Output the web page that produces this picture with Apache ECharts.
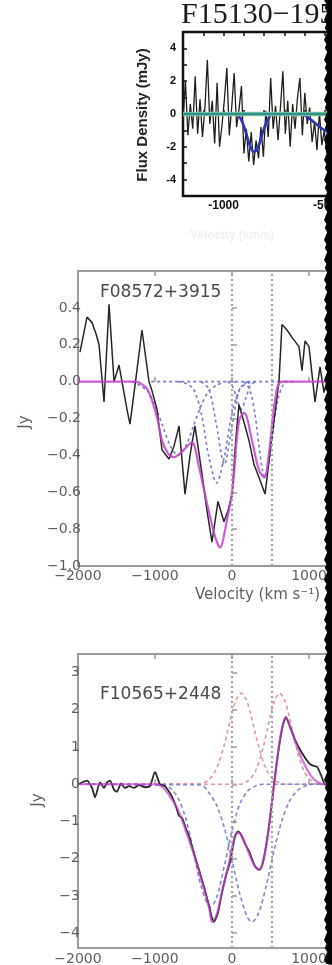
<!DOCTYPE html>
<html>
<head>
<meta charset="utf-8">
<script src="https://cdn.jsdelivr.net/npm/echarts@6/dist/echarts.min.js"></script>
<style>
html,body{margin:0;padding:0;background:#fff;}
#chart{width:332px;height:965px;}
</style>
</head>
<body>
<div id="chart"></div>
<script>
// ---- F15130-1958 : noisy spectrum (mJy), Gaussian fit, zero level ----
const velA = [-1200,-1188,-1176,-1164,-1152,-1140,-1128,-1116,-1104,-1092,-1080,-1068,-1056,-1044,-1032,-1020,-1008,-996,-984,-972,-960,-948,-936,-924,-912,-900,-888,-876,-864,-852,-840,-828,-816,-804,-792,-780,-768,-756,-744,-732,-720,-708,-696,-684,-672,-660,-648,-636,-624,-612,-600,-588,-576,-564,-552,-540,-528,-516,-504,-492];
const fluxA = [-0.4,2.0,-1.3,0.6,-0.9,2.3,-1.2,0.9,-1.4,0.4,3.3,-0.6,0.8,-1.8,1.9,-2.0,-0.7,0.9,2.8,-1.3,0.4,2.5,-0.8,0.3,1.7,-2.4,-0.9,-2.9,-1.1,-3.1,-1.6,-2.7,-0.8,-2.6,0.2,-1.4,2.2,-0.9,0.5,-1.6,0.4,2.6,-1.2,0.8,-2.0,0.6,-0.9,1.0,2.2,-1.3,1.3,-0.6,0.4,-1.7,-0.5,-2.2,0.1,-1.9,-1.0,-2.4];
const velFitA = [-1200,-940,-920,-900,-880,-865,-850,-835,-820,-800,-780,-760,-620,-600,-580,-560,-540,-520,-500,-480,-460];
const fitA = [0,0,-0.2,-0.75,-1.55,-2.1,-2.3,-2.15,-1.65,-0.85,-0.3,0,0,-0.1,-0.25,-0.45,-0.65,-0.85,-1.0,-1.15,-1.3];
const velZeroA = [-1200,-200];
const zeroA = [0,0];

// ---- F08572+3915 : spectrum (Jy), total fit, Gaussian components ----
const vel2Obs = [-1974,-1883,-1818,-1766,-1727,-1662,-1597,-1532,-1467,-1429,-1364,-1325,-1247,-1169,-1078,-1039,-974,-909,-818,-753,-688,-610,-545,-481,-390,-325,-260,-182,-104,-52,0,52,91,156,221,286,351,429,519,610,649,714,779,870,909,948,1000,1078,1143,1195,1260,1364];
const flux2Obs = [0.16,0.35,0.32,0.26,0.2,-0.11,0.42,0.0,0.09,0.0,-0.15,-0.23,0.02,0.28,0.0,-0.05,-0.15,-0.37,-0.42,-0.35,-0.24,-0.61,-0.4,-0.24,-0.5,-0.7,-0.87,-0.65,-0.76,-0.7,-0.62,-0.3,-0.125,-0.22,-0.32,-0.45,-0.52,-0.61,-0.3,0.0,0.31,0.28,0.24,0.19,0.06,0.22,0.19,-0.11,0.08,-0.06,0.05,0.1];
const vel2Fit = [-2000,-1250,-1150,-1100,-1040,-970,-909,-830,-753,-650,-520,-430,-325,-220,-156,-65,0,26,60,100,160,260,350,420,480,560,650,2000];
const fit2 = [0,0,-0.02,-0.04,-0.1,-0.2,-0.32,-0.39,-0.41,-0.38,-0.33,-0.46,-0.66,-0.84,-0.9,-0.75,-0.6,-0.5,-0.32,-0.2,-0.17,-0.32,-0.48,-0.52,-0.39,-0.1,0,0];
const vel2Base = [-1050,720];
const base2 = [0,0];
const vel2CompD = [-1300,-1200,-1100,-1000,-900,-800,-700,-600,-500,-400,-300,-200,-100];
const comp2D = [0,-0.02,-0.05,-0.13,-0.24,-0.35,-0.40,-0.35,-0.24,-0.13,-0.05,-0.02,0];
const vel2CompA = [-700,-600,-500,-400,-300,-200,-100,0,100,200,300];
const comp2A = [0,-0.01,-0.04,-0.17,-0.41,-0.55,-0.41,-0.17,-0.04,-0.01,0];
const vel2CompB = [-400,-300,-200,-100,0,100,200];
const comp2B = [0,-0.04,-0.24,-0.45,-0.24,-0.04,0];
const vel2CompE = [-60,0,60,120,180,240,300];
const comp2E = [0,-0.02,-0.09,-0.15,-0.09,-0.02,0];
const vel2CompC = [150,200,250,300,350,400,430,500,550,600,650,700,800];
const comp2C = [0,-0.02,-0.07,-0.18,-0.35,-0.49,-0.52,-0.38,-0.21,-0.09,-0.03,0,0];

// ---- F10565+2448 : spectrum (Jy), total fit, absorption + emission components ----
const vel3Obs = [-2000,-1883,-1818,-1779,-1714,-1662,-1623,-1584,-1532,-1494,-1442,-1390,-1338,-1273,-1208,-1130,-1065,-1000,-935,-870,-818,-779,-727,-688,-649,-597,-558,-494,-429,-364,-299,-260,-234,-182,-130,-78,-26,39,78,117,169,221,299,351,390,455,519,545,610,662,701,753,818,909,1000,1052,1104,1156,1208,1299,2000];
const flux3Obs = [0.0,0.1,-0.1,-0.35,0.05,-0.1,0.05,0.1,-0.15,-0.2,0.02,-0.1,-0.05,-0.1,-0.02,-0.08,-0.05,0.33,0.0,-0.05,-0.2,-0.33,-0.6,-0.85,-0.9,-1.2,-1.4,-1.85,-2.3,-2.75,-3.25,-3.6,-3.7,-3.45,-2.9,-2.45,-2.1,-1.4,-1.27,-1.35,-1.6,-1.8,-2.2,-2.3,-2.2,-1.5,-0.5,0.0,1.0,1.6,1.8,1.55,1.2,0.84,0.57,0.5,0.47,0.25,0.0,0.0,0.0];
const vel3Fit = [-2000,-1000,-950,-900,-850,-800,-750,-700,-650,-600,-500,-400,-300,-260,-200,-130,-50,30,80,130,200,280,350,400,460,520,560,610,660,700,760,830,900,980,1060,1140,1200,2000];
const fit3 = [0,0,-0.02,-0.08,-0.2,-0.35,-0.5,-0.7,-0.95,-1.25,-1.85,-2.55,-3.3,-3.7,-3.5,-2.9,-2.2,-1.45,-1.3,-1.4,-1.75,-2.15,-2.3,-2.1,-1.45,-0.45,0.2,1.05,1.6,1.8,1.5,1.1,0.72,0.38,0.14,0.03,0,0];
const vel3AbsA = [-2000,-900,-800,-700,-600,-500,-400,-280,-200,-100,0,100,200,300,400,2000];
const abs3A = [0,-0.03,-0.11,-0.37,-0.92,-1.81,-2.75,-3.3,-3.05,-2.2,-1.24,-0.54,-0.19,-0.05,0,0];
const vel3AbsB = [-2000,-400,-300,-200,-100,0,100,200,260,350,450,550,650,750,850,950,1050,2000];
const abs3B = [0,-0.02,-0.23,-0.56,-1.17,-2.03,-2.94,-3.58,-3.7,-3.44,-2.68,-1.75,-0.96,-0.44,-0.17,-0.05,0,0];
const vel3EmA = [-2000,-400,-300,-200,-100,0,60,120,180,240,340,440,540,640,700,2000];
const em3A = [0,0.02,0.12,0.42,1.06,1.91,2.3,2.45,2.3,1.91,1.06,0.42,0.12,0.02,0,0];
const vel3EmB = [-2000,100,200,300,400,500,560,620,680,740,840,940,1040,1100,2000];
const em3B = [0,0,0.08,0.33,0.95,1.85,2.28,2.45,2.28,1.85,0.95,0.33,0.08,0,0];

// systemic and secondary velocity markers
const markerVel = [0, 520];

// y tick values for the third panel
const ticks3 = [-4,-3,-2,-1,0,1,2,3];

const pairs = (xs, ys) => xs.map((x, i) => [x, ys[i]]);
const minus = v => (v < 0 ? '\u2212' : '') + Math.abs(v);

const grayAxis = '#9c9c9c';
const grayText = '#5e5e5e';
const sans = 'DejaVu Sans';

function grayX(gridIndex, pos, showLabels, margin) {
  return {
    type: 'value', gridIndex, position: pos, min: -2000, max: 2000, interval: 1000,
    axisLine: {show: false}, splitLine: {show: false},
    axisTick: {show: true, inside: true, length: 5, lineStyle: {color: grayAxis, width: 1.5}},
    axisLabel: {show: showLabels, margin: margin, color: grayText, fontSize: 14, fontFamily: sans,
      formatter: minus, showMinLabel: true, showMaxLabel: true}
  };
}

const chart = echarts.init(document.getElementById('chart'), null, {renderer: 'canvas'});

const dottedMarks = {
  silent: true, symbol: 'none', label: {show: false},
  lineStyle: {color: '#a3a3a3', width: 2.2, type: [2, 3]},
  data: markerVel.map(v => ({xAxis: v}))
};

const line = (name, xi, yi, data, color, width, type, smooth, z, opacity) => ({
  name, type: 'line', xAxisIndex: xi, yAxisIndex: yi, data,
  showSymbol: false, symbol: 'none', smooth: smooth, z: z,
  lineStyle: {color, width, type: type || 'solid', opacity: opacity == null ? 1 : opacity},
  animation: false
});

const gridBase = {show: true, backgroundColor: 'transparent', containLabel: false, outerBoundsMode: 'none'};

const option = {
  backgroundColor: '#ffffff',
  animation: false,
  grid: [
    Object.assign({left: 183, top: 32, width: 203, height: 164, borderColor: '#111', borderWidth: 2.5}, gridBase),
    Object.assign({left: 78, top: 271, width: 308, height: 295, borderColor: grayAxis, borderWidth: 2}, gridBase),
    Object.assign({left: 78, top: 654, width: 308, height: 294, borderColor: grayAxis, borderWidth: 2}, gridBase)
  ],
  xAxis: [
    {type: 'value', gridIndex: 0, position: 'bottom', min: -1200, max: -200, interval: 100,
      axisLine: {show: false}, splitLine: {show: false},
      axisTick: {show: true, inside: true, length: 4, lineStyle: {color: '#111', width: 1.5}},
      axisLabel: {margin: 4, color: '#111', fontSize: 12, fontWeight: 'bold', fontFamily: 'Liberation Sans',
        formatter: v => (v % 500 === 0 ? String(v) : '')}},
    {type: 'value', gridIndex: 0, position: 'top', min: -1200, max: -200, interval: 100,
      axisLine: {show: false}, splitLine: {show: false},
      axisTick: {show: true, inside: true, length: 4, lineStyle: {color: '#111', width: 1.5}},
      axisLabel: {show: false}},
    grayX(1, 'bottom', true, 3),
    grayX(1, 'top', false, 3),
    grayX(2, 'bottom', true, 4),
    grayX(2, 'top', false, 3)
  ],
  yAxis: [
    {type: 'value', gridIndex: 0, min: -5, max: 5, interval: 1,
      axisLine: {show: false}, splitLine: {show: false},
      axisTick: {show: true, inside: true, length: 4, lineStyle: {color: '#111', width: 1.5}},
      axisLabel: {margin: 7, color: '#111', fontSize: 11, fontWeight: 'bold', fontFamily: 'Liberation Sans',
        formatter: v => (Math.abs(v) % 2 === 0 && Math.abs(v) < 5 ? String(v) : '')}},
    {type: 'value', gridIndex: 1, min: -1.0, max: 0.6, interval: 0.2,
      axisLine: {show: false}, splitLine: {show: false},
      axisTick: {show: true, inside: true, length: 5, lineStyle: {color: grayAxis, width: 1.5}},
      axisLabel: {margin: -3, color: grayText, fontSize: 14, fontFamily: sans, showMinLabel: true,
        formatter: v => (v > 0.5 ? '' : (v < -0.001 ? '\u2212' : '') + Math.abs(v).toFixed(1))}},
    {type: 'value', gridIndex: 2, min: -4.4, max: 3.5,
      axisLine: {show: false}, splitLine: {show: false},
      axisTick: {show: true, inside: true, length: 5, customValues: ticks3, lineStyle: {color: grayAxis, width: 1.5}},
      axisLabel: {margin: -2, color: grayText, fontSize: 14, fontFamily: sans, customValues: ticks3,
        formatter: minus}}
  ],
  series: [
    // first panel
    line('spectrumA', 0, 0, pairs(velA, fluxA), '#1e1e1e', 1.3, 'solid', false, 2),
    line('fitA', 0, 0, pairs(velFitA, fitA), '#2d35b4', 2.6, 'solid', 0.3, 3),
    line('zeroGreenA', 0, 0, pairs(velZeroA, zeroA), '#86cf96', 4.5, 'solid', false, 4),
    line('zeroTealA', 0, 0, pairs(velZeroA, zeroA), '#2f8f94', 2.4, 'solid', false, 5),

    // second panel
    Object.assign(line('base2', 2, 1, pairs(vel2Base, base2), '#7a7ad6', 1.6, [3, 3], false, 2), {markLine: dottedMarks}),
    line('comp2D', 2, 1, pairs(vel2CompD, comp2D), '#7a7ad6', 1.6, [3, 3], 0.3, 2),
    line('comp2A', 2, 1, pairs(vel2CompA, comp2A), '#7a7ad6', 1.6, [3, 3], 0.3, 2),
    line('comp2B', 2, 1, pairs(vel2CompB, comp2B), '#7a7ad6', 1.6, [3, 3], 0.3, 2),
    line('comp2E', 2, 1, pairs(vel2CompE, comp2E), '#7a7ad6', 1.6, [3, 3], 0.3, 2),
    line('comp2C', 2, 1, pairs(vel2CompC, comp2C), '#7a7ad6', 1.6, [3, 3], 0.3, 2),
    line('spectrum2', 2, 1, pairs(vel2Obs, flux2Obs), '#262626', 1.5, 'solid', false, 3),
    line('fit2', 2, 1, pairs(vel2Fit, fit2), '#c43fcc', 2.2, 'solid', 0.3, 4, 0.85),

    // third panel
    Object.assign(line('em3A', 4, 2, pairs(vel3EmA, em3A), '#e39aa2', 1.6, [4, 3], 0.3, 2), {markLine: dottedMarks}),
    line('em3B', 4, 2, pairs(vel3EmB, em3B), '#e39aa2', 1.6, [4, 3], 0.3, 2),
    line('abs3A', 4, 2, pairs(vel3AbsA, abs3A), '#8585d4', 1.6, [4, 3], 0.3, 2),
    line('abs3B', 4, 2, pairs(vel3AbsB, abs3B), '#8585d4', 1.6, [4, 3], 0.3, 2),
    line('spectrum3', 4, 2, pairs(vel3Obs, flux3Obs), '#2a2a2a', 1.8, 'solid', 0.2, 3),
    line('fit3', 4, 2, pairs(vel3Fit, fit3), '#c43fcc', 2.2, 'solid', 0.3, 4, 0.7)
  ],
  graphic: []
};

// torn black edge on the right-hand side
const edge = [[332, 0]];
for (let y = 0; y <= 965; y += 4) {
  edge.push([324 + ((y * 7) % 5) * 0.8, y]);
}
edge.push([332, 965]);

option.graphic = [
  {type: 'text', x: 181, y: 30, z: 50,
    style: {text: 'F15130\u22121958', font: '30px "Liberation Serif"', fill: '#1a1a1a', verticalAlign: 'bottom'}},
  {type: 'text', x: 143, y: 115, rotation: Math.PI / 2, z: 50,
    style: {text: 'Flux Density (mJy)', font: 'bold 15px "Liberation Sans"', fill: '#222', align: 'center', verticalAlign: 'middle'}},
  {type: 'text', x: 232, y: 236, z: 50,
    style: {text: 'Velocity (km/s)', font: 'bold 12px "Liberation Sans"', fill: '#f1f1f1', align: 'center', verticalAlign: 'middle'}},
  {type: 'text', x: 100, y: 293, z: 50,
    style: {text: 'F08572+3915', font: '17px "DejaVu Sans"', fill: '#4a4a4a', verticalAlign: 'middle'}},
  {type: 'text', x: 25, y: 422, rotation: Math.PI / 2, z: 50,
    style: {text: 'Jy', font: '15px "DejaVu Sans"', fill: grayText, align: 'center', verticalAlign: 'middle'}},
  {type: 'text', x: 195, y: 595, z: 50,
    style: {text: 'Velocity (km s\u207B\u00B9)', font: '15px "DejaVu Sans"', fill: grayText, verticalAlign: 'middle'}},
  {type: 'text', x: 100, y: 695, z: 50,
    style: {text: 'F10565+2448', font: '17px "DejaVu Sans"', fill: '#4a4a4a', verticalAlign: 'middle'}},
  {type: 'text', x: 38, y: 800, rotation: Math.PI / 2, z: 50,
    style: {text: 'Jy', font: '15px "DejaVu Sans"', fill: grayText, align: 'center', verticalAlign: 'middle'}},
  {type: 'polygon', z: 100, shape: {points: edge}, style: {fill: '#050505'}}
];

chart.setOption(option);
</script>
</body>
</html>
